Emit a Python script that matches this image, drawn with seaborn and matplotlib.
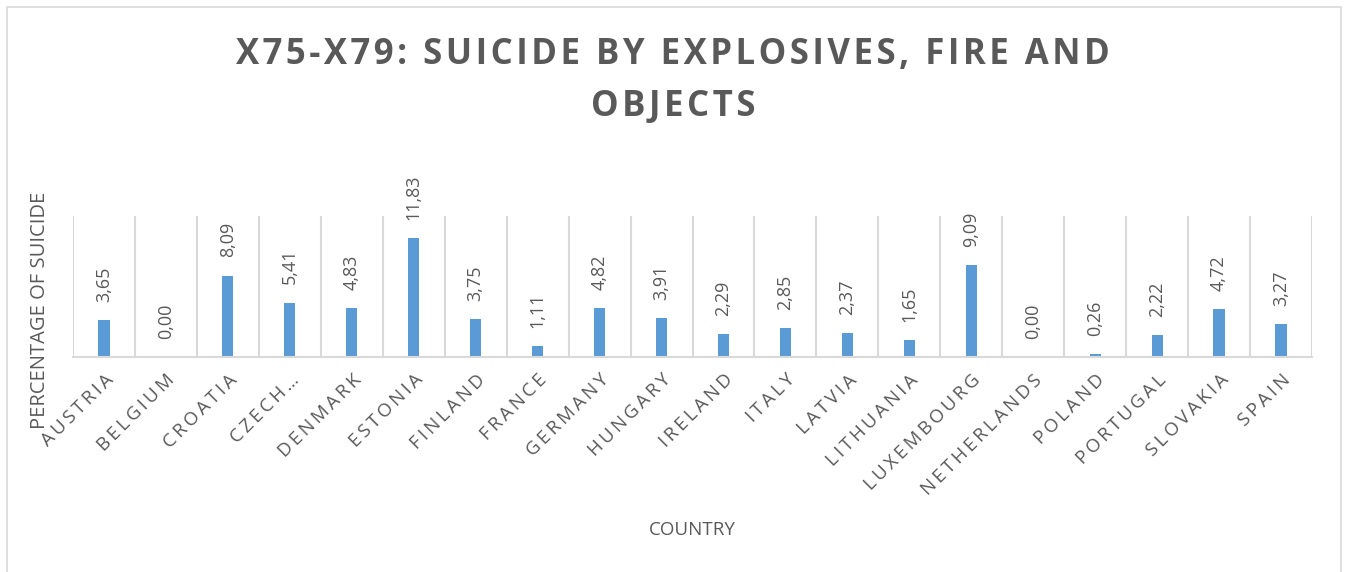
import matplotlib
matplotlib.use("Agg")
import matplotlib.pyplot as plt
import seaborn as sns
import pandas as pd
import numpy as np
from matplotlib.patches import Rectangle

countries = ["AUSTRIA", "BELGIUM", "CROATIA", "CZECH…", "DENMARK", "ESTONIA", "FINLAND",
             "FRANCE", "GERMANY", "HUNGARY", "IRELAND", "ITALY", "LATVIA", "LITHUANIA",
             "LUXEMBOURG", "NETHERLANDS", "POLAND", "PORTUGAL", "SLOVAKIA", "SPAIN"]
values = [3.65, 0.00, 8.09, 5.41, 4.83, 11.83, 3.75, 1.11, 4.82, 3.91, 2.29, 2.85,
          2.37, 1.65, 9.09, 0.00, 0.26, 2.22, 4.72, 3.27]

title_lines = ["X75-X79: SUICIDE BY EXPLOSIVES, FIRE AND", "OBJECTS"]
xlabel = "COUNTRY"
ylabel = "PERCENTAGE OF SUICIDE"


def spaced(s, sep):
    return sep.join(list(s))


df = pd.DataFrame({"country": countries, "value": values})

sns.set_theme(style="white")
plt.rcParams['font.family'] = ['Open Sans', 'DejaVu Sans']

TXT = "#595959"
GRID = "#D9D9D9"
BAR = "#5B9BD5"

W, H = 1346, 572
fig = plt.figure(figsize=(W / 100, H / 100), dpi=100)
fig.patch.set_facecolor("white")
fig.add_artist(Rectangle((7 / W, -0.01), (1341 - 7) / W, 1 - 7 / H + 0.01,
                         transform=fig.transFigure, fill=False, edgecolor=GRID, lw=1.2))

ax = fig.add_axes([73 / W, 1 - 357 / H, (1312 - 73) / W, (357 - 216) / H])
sns.barplot(data=df, x="country", y="value", color=BAR, width=0.18, ax=ax,
            saturation=1, edgecolor="none")

ax.set_ylim(0, 14)
ax.set_xlim(-0.5, len(countries) - 0.5)
ax.set_yticks([])
for s in ["top", "right", "left"]:
    ax.spines[s].set_visible(False)
ax.spines["bottom"].set_color(GRID)
ax.spines["bottom"].set_linewidth(1.5)

for k in range(len(countries) + 1):
    ax.axvline(k - 0.5, color=GRID, lw=1.5, zorder=0)

labels = [f"{v:.2f}".replace(".", ",") for v in values]
ax.bar_label(ax.containers[0], labels=labels, rotation=90, padding=13,
             color=TXT, fontsize=13)

ax.set_xticks(range(len(countries)))
ax.set_xticklabels([spaced(c, "\u2009") for c in countries], rotation=45, ha="right",
                   rotation_mode="anchor", color=TXT, fontsize=13.5)
ax.tick_params(axis="x", length=0, pad=10)

ax.set_xlabel("")
ax.set_ylabel("")
fig.text(692 / W, 1 - 530 / H, xlabel, color=TXT, fontsize=13.5, ha="center", va="center")
fig.text(40 / W, 1 - 310 / H, ylabel, rotation=90, color=TXT, fontsize=14.5,
         ha="center", va="center")

fig.text(0.5, 1 - 55 / H, spaced(title_lines[0], "\u200a"), ha="center", va="center",
         color=TXT, fontsize=25, fontweight="bold")
fig.text(0.5, 1 - 107 / H, spaced(title_lines[1], "\u200a"), ha="center", va="center",
         color=TXT, fontsize=25, fontweight="bold")

fig.savefig("out.png", dpi=100)
